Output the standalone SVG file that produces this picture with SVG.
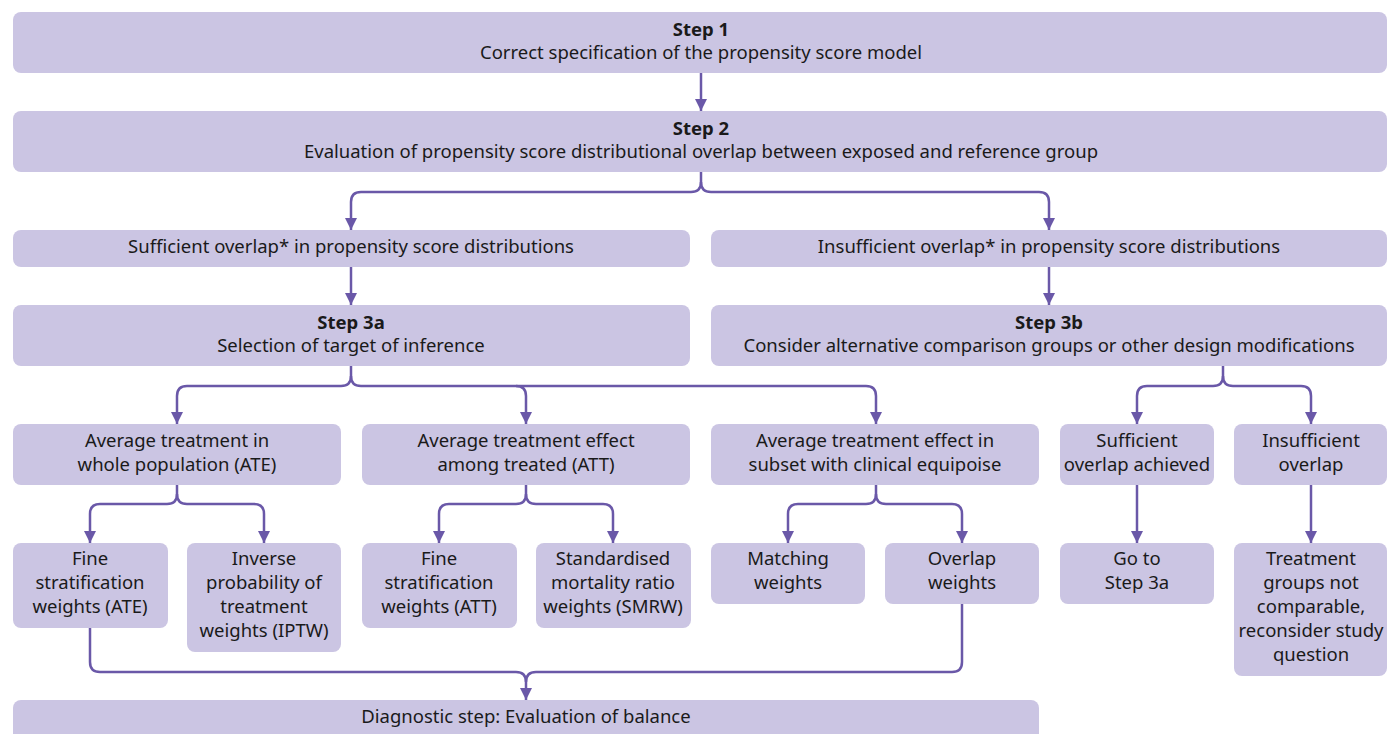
<svg xmlns="http://www.w3.org/2000/svg" width="1388" height="734" viewBox="0 0 1388 734">
<defs>
<style>
.box{fill:#cbc5e3;}
.t{font-family:"Noto Sans","Open Sans",sans-serif;font-size:18.5px;fill:#1a1a1a;text-anchor:middle;}
.b{font-weight:bold;}
.c{fill:none;stroke:#6a58a8;stroke-width:2.5;}
</style>
<marker id="ah" viewBox="0 0 12 12" refX="12" refY="6" markerWidth="12" markerHeight="12" markerUnits="userSpaceOnUse" orient="auto">
<path d="M0,0 L12,6 L0,12 z" fill="#6a58a8"/>
</marker>
</defs>
<rect width="1388" height="734" fill="#ffffff"/>

<g id="connectors">
<path class="c" d="M701,72 V111" marker-end="url(#ah)"/>
<path class="c" d="M701,172 V182 Q701,192 691,192 H361 Q351,192 351,202 V230" marker-end="url(#ah)"/>
<path class="c" d="M701,182 Q701,192 711,192 H1039 Q1049,192 1049,202 V230" marker-end="url(#ah)"/>
<path class="c" d="M351,267 V305" marker-end="url(#ah)"/>
<path class="c" d="M1049,267 V305" marker-end="url(#ah)"/>
<path class="c" d="M351,366 V376 Q351,386 341,386 H187 Q177,386 177,396 V424" marker-end="url(#ah)"/>
<path class="c" d="M351,376 Q351,386 361,386 H516 Q526,386 526,396 V424" marker-end="url(#ah)"/>
<path class="c" d="M516,386 H866 Q876,386 876,396 V424" marker-end="url(#ah)"/>
<path class="c" d="M1223,366 V376 Q1223,386 1213,386 H1147 Q1137,386 1137,396 V424" marker-end="url(#ah)"/>
<path class="c" d="M1223,376 Q1223,386 1233,386 H1301 Q1311,386 1311,396 V424" marker-end="url(#ah)"/>
<path class="c" d="M177,485 V494 Q177,504 167,504 H100 Q90,504 90,514 V543" marker-end="url(#ah)"/>
<path class="c" d="M177,494 Q177,504 187,504 H254 Q264,504 264,514 V543" marker-end="url(#ah)"/>
<path class="c" d="M526,485 V494 Q526,504 516,504 H449 Q439,504 439,514 V543" marker-end="url(#ah)"/>
<path class="c" d="M526,494 Q526,504 536,504 H603 Q613,504 613,514 V543" marker-end="url(#ah)"/>
<path class="c" d="M876,485 V494 Q876,504 866,504 H798 Q788,504 788,514 V543" marker-end="url(#ah)"/>
<path class="c" d="M876,494 Q876,504 886,504 H952 Q962,504 962,514 V543" marker-end="url(#ah)"/>
<path class="c" d="M1137,485 V543" marker-end="url(#ah)"/>
<path class="c" d="M1311,485 V543" marker-end="url(#ah)"/>
<path class="c" d="M90,628 V662 Q90,672 100,672 H516 Q526,672 526,682 V700" marker-end="url(#ah)"/>
<path class="c" d="M962,604 V662 Q962,672 952,672 H536 Q526,672 526,682"/>
</g>

<g id="step1"><rect class="box" x="13" y="12" width="1374" height="61" rx="8"/>
<text class="t b" x="701" y="36">Step 1</text><text class="t" x="701" y="59">Correct specification of the propensity score model</text></g>
<g id="step2"><rect class="box" x="13" y="111" width="1374" height="61" rx="8"/>
<text class="t b" x="701" y="135">Step 2</text><text class="t" x="701" y="158">Evaluation of propensity score distributional overlap between exposed and reference group</text></g>
<g id="sufficient"><rect class="box" x="13" y="230" width="677" height="37" rx="8"/>
<text class="t" x="351" y="253">Sufficient overlap* in propensity score distributions</text></g>
<g id="insufficient"><rect class="box" x="711" y="230" width="676" height="37" rx="8"/>
<text class="t" x="1049" y="253">Insufficient overlap* in propensity score distributions</text></g>
<g id="step3a"><rect class="box" x="13" y="305" width="677" height="61" rx="8"/>
<text class="t b" x="351" y="329">Step 3a</text><text class="t" x="351" y="352">Selection of target of inference</text></g>
<g id="step3b"><rect class="box" x="711" y="305" width="676" height="61" rx="8"/>
<text class="t b" x="1049" y="329">Step 3b</text><text class="t" x="1049" y="352">Consider alternative comparison groups or other design modifications</text></g>
<g id="ate"><rect class="box" x="13" y="424" width="328" height="61" rx="8"/>
<text class="t" x="177" y="447">Average treatment in</text><text class="t" x="177" y="471">whole population (ATE)</text></g>
<g id="att"><rect class="box" x="362" y="424" width="328" height="61" rx="8"/>
<text class="t" x="526" y="447">Average treatment effect</text><text class="t" x="526" y="471">among treated (ATT)</text></g>
<g id="equipoise"><rect class="box" x="711" y="424" width="328" height="61" rx="8"/>
<text class="t" x="875" y="447">Average treatment effect in</text><text class="t" x="875" y="471">subset with clinical equipoise</text></g>
<g id="achieved"><rect class="box" x="1060" y="424" width="154" height="61" rx="8"/>
<text class="t" x="1137" y="447">Sufficient</text><text class="t" x="1137" y="471">overlap achieved</text></g>
<g id="insuffoverlap"><rect class="box" x="1234" y="424" width="153" height="61" rx="8"/>
<text class="t" x="1311" y="447">Insufficient</text><text class="t" x="1311" y="471">overlap</text></g>
<g id="fineate"><rect class="box" x="13" y="543" width="155" height="85" rx="8"/>
<text class="t" x="90" y="565">Fine</text><text class="t" x="90" y="589">stratification</text><text class="t" x="90" y="613">weights (ATE)</text></g>
<g id="iptw"><rect class="box" x="187" y="543" width="154" height="109" rx="8"/>
<text class="t" x="264" y="565">Inverse</text><text class="t" x="264" y="589">probability of</text><text class="t" x="264" y="613">treatment</text><text class="t" x="264" y="637">weights (IPTW)</text></g>
<g id="fineatt"><rect class="box" x="362" y="543" width="155" height="85" rx="8"/>
<text class="t" x="439" y="565">Fine</text><text class="t" x="439" y="589">stratification</text><text class="t" x="439" y="613">weights (ATT)</text></g>
<g id="smrw"><rect class="box" x="536" y="543" width="155" height="85" rx="8"/>
<text class="t" x="613" y="565">Standardised</text><text class="t" x="613" y="589">mortality ratio</text><text class="t" x="613" y="613">weights (SMRW)</text></g>
<g id="matching"><rect class="box" x="711" y="543" width="154" height="61" rx="8"/>
<text class="t" x="788" y="565">Matching</text><text class="t" x="788" y="589">weights</text></g>
<g id="overlap"><rect class="box" x="885" y="543" width="154" height="61" rx="8"/>
<text class="t" x="962" y="565">Overlap</text><text class="t" x="962" y="589">weights</text></g>
<g id="goto"><rect class="box" x="1060" y="543" width="154" height="61" rx="8"/>
<text class="t" x="1137" y="565">Go to</text><text class="t" x="1137" y="589">Step 3a</text></g>
<g id="notcomparable"><rect class="box" x="1234" y="543" width="153" height="133" rx="8"/>
<text class="t" x="1311" y="565">Treatment</text><text class="t" x="1311" y="589">groups not</text><text class="t" x="1311" y="613">comparable,</text><text class="t" x="1311" y="637">reconsider study</text><text class="t" x="1311" y="661">question</text></g>
<g id="diagnostic"><rect class="box" x="13" y="700" width="1026" height="44" rx="8"/>
<text class="t" x="526" y="723">Diagnostic step: Evaluation of balance</text></g>
</svg>
